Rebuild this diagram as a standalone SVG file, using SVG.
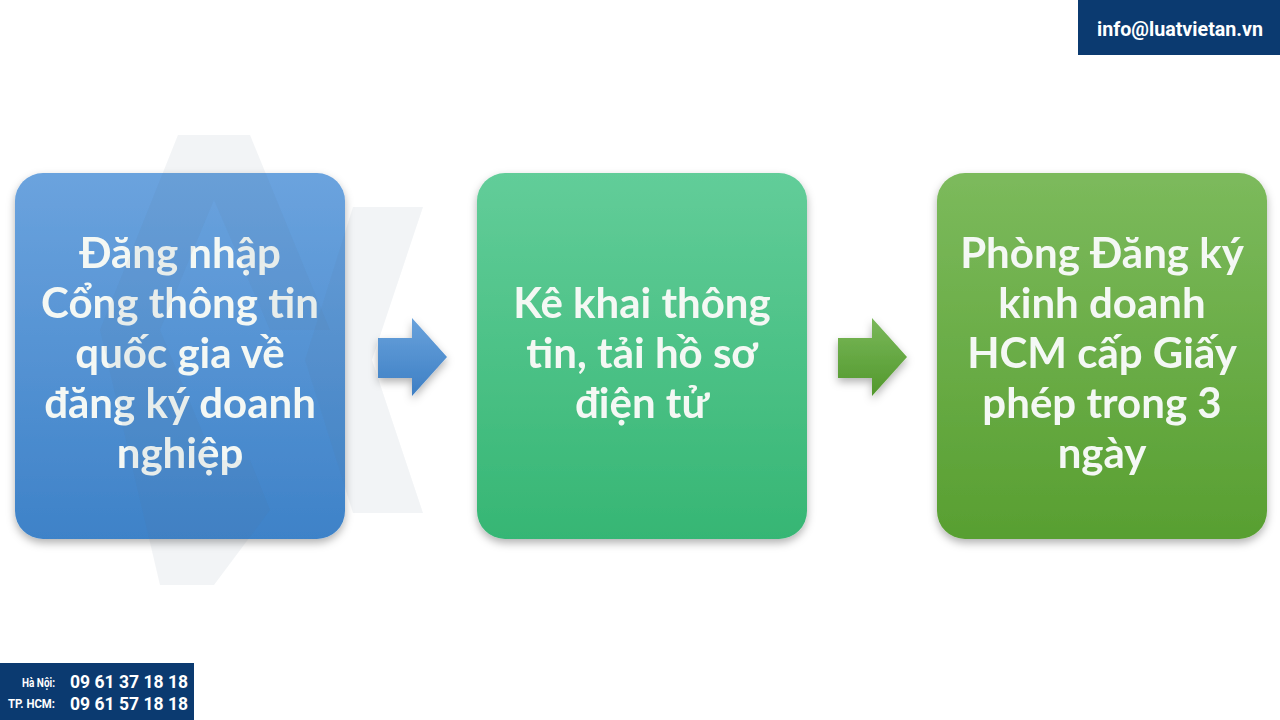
<svg xmlns="http://www.w3.org/2000/svg" width="1280" height="720" viewBox="0 0 1280 720">
<defs>
<linearGradient id="gBlue" x1="0" y1="0" x2="0" y2="1"><stop offset="0" stop-color="#6ba3de"/><stop offset="1" stop-color="#3e82c8"/></linearGradient>
<linearGradient id="gTeal" x1="0" y1="0" x2="0" y2="1"><stop offset="0" stop-color="#62cd99"/><stop offset="1" stop-color="#36b674"/></linearGradient>
<linearGradient id="gGreen" x1="0" y1="0" x2="0" y2="1"><stop offset="0" stop-color="#7cba5c"/><stop offset="1" stop-color="#589f31"/></linearGradient>
<linearGradient id="aBlue" x1="0" y1="0" x2="0" y2="1"><stop offset="0" stop-color="#69a2dc"/><stop offset="1" stop-color="#3d7fc4"/></linearGradient>
<linearGradient id="aGreen" x1="0" y1="0" x2="0" y2="1"><stop offset="0" stop-color="#7ab85a"/><stop offset="1" stop-color="#52982c"/></linearGradient>
<filter id="sh" x="-10%" y="-10%" width="120%" height="125%"><feDropShadow dx="0" dy="4" stdDeviation="4" flood-color="#000" flood-opacity="0.3"/></filter>
</defs>
<style>
.lbl{font-family:Lato,"Open Sans","Liberation Sans",sans-serif;font-weight:700;font-size:42px;fill:#f4f8f4;text-anchor:middle}
.wm{fill:#56708f;opacity:0.08}
.hdr{font-family:Roboto,"Liberation Sans",sans-serif;font-weight:700;fill:#ffffff}
</style>
<rect width="1280" height="720" fill="#ffffff"/>

<g id="node1" filter="url(#sh)">
<rect x="15" y="173" width="330" height="366" rx="28" fill="url(#gBlue)"/>
<text class="lbl" x="180" y="268">Đăng nhập</text>
<text class="lbl" x="180" y="318">Cổng thông tin</text>
<text class="lbl" x="180" y="368">quốc gia về</text>
<text class="lbl" x="180" y="418">đăng ký doanh</text>
<text class="lbl" x="180" y="468">nghiệp</text>
</g>
<g id="node2" filter="url(#sh)">
<rect x="477" y="173" width="330" height="366" rx="28" fill="url(#gTeal)"/>
<text class="lbl" x="642" y="318">Kê khai thông</text>
<text class="lbl" x="642" y="368">tin, tải hồ sơ</text>
<text class="lbl" x="642" y="418">điện tử</text>
</g>
<g id="node3" filter="url(#sh)">
<rect x="937" y="173" width="330" height="366" rx="28" fill="url(#gGreen)"/>
<text class="lbl" x="1102" y="268">Phòng Đăng ký</text>
<text class="lbl" x="1102" y="318">kinh doanh</text>
<text class="lbl" x="1102" y="368">HCM cấp Giấy</text>
<text class="lbl" x="1102" y="418">phép trong 3</text>
<text class="lbl" x="1102" y="468">ngày</text>
</g>

<g id="connectors" filter="url(#sh)">
<polygon points="378,338 412,338 412,318 447,357 412,396 412,378 378,378" fill="url(#aBlue)"/>
<polygon points="838,338 872,338 872,318 907,357 872,396 872,378 838,378" fill="url(#aGreen)"/>
</g>

<g id="watermark">
<polygon class="wm" points="178,135 250,135 330,330 270,330 214,200 160,330 100,330"/>
<polygon class="wm" points="100,330 160,330 214,460 250,460 270,510 214,585 160,585"/>
<polygon class="wm" points="353,207 423,207 372,360 423,513 353,513 305,360"/>
</g>

<g id="header">
<rect x="1078" y="0" width="202" height="55" fill="#0b3a70"/>
<text class="hdr" x="1097" y="36" font-size="21" textLength="166" lengthAdjust="spacingAndGlyphs">info@luatvietan.vn</text>
</g>
<g id="footer">
<rect x="0" y="663" width="194" height="57" fill="#0b3a70"/>
<text class="hdr" x="22" y="687" font-size="12" textLength="33" lengthAdjust="spacingAndGlyphs">Hà Nội:</text>
<text class="hdr" x="8" y="708" font-size="12" textLength="47" lengthAdjust="spacingAndGlyphs">TP. HCM:</text>
<text class="hdr" x="70" y="688" font-size="18" textLength="118" lengthAdjust="spacingAndGlyphs">09 61 37 18 18</text>
<text class="hdr" x="70" y="710" font-size="18" textLength="118" lengthAdjust="spacingAndGlyphs">09 61 57 18 18</text>
</g>
</svg>
